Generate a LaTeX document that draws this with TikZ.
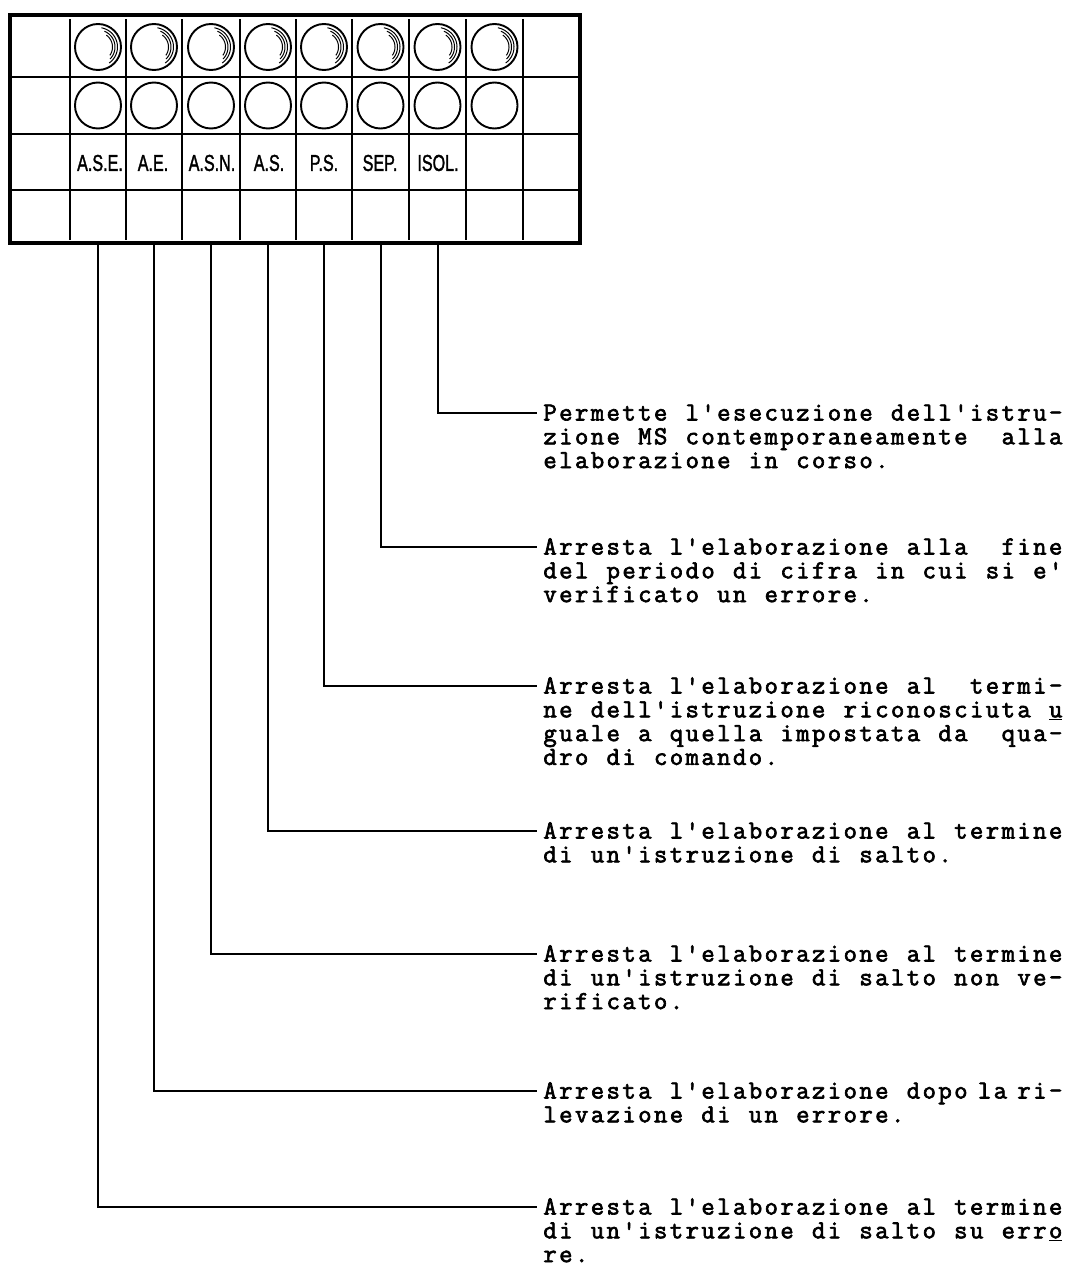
\documentclass[tikz,border=0pt]{standalone}
\usepackage{fontspec}
\usepackage{graphicx}
\newfontfamily\typew[FakeBold=2.5]{Latin Modern Mono}
\newfontfamily\labfont[FakeBold=1.8]{Liberation Sans}
\newlength\cellw \setlength\cellw{15.8pt}
\makeatletter
\def\twline#1{\tw@loop#1\relax}
\def\tw@loop#1{\ifx\relax#1\else\makebox[\cellw][c]{#1}\expandafter\tw@loop\fi}
\makeatother
\newcommand\dlines[1]{\vtop{\lineskiplimit=-50pt\baselineskip=23.8pt #1}}
\tikzset{
  frame/.style={draw, line width=3.5pt, inner sep=0pt, minimum width=570pt, minimum height=228pt},
  gridline/.style={line width=1.3pt},
  lamp/.style={circle, draw, line width=1.9pt, inner sep=0pt, minimum size=46pt},
  glint/.style={line width=1pt},
  lab/.style={inner sep=0pt, font=\labfont\fontsize{23pt}{23pt}\selectfont},
  desc/.style={inner sep=0pt, anchor=base west, font=\typew\fontsize{26pt}{23.8pt}\selectfont},
  conn/.style={line width=2pt},
}
\begin{document}
\begin{tikzpicture}[x=1pt, y=-1pt]
\useasboundingbox[fill=white] (0,0) rectangle (1070,1274);

% panel frame
\node[frame] (panel) at (295,129) {};

% grid
\foreach \gx in {70,126,182,240,296,352,409,466,523}
  \draw[gridline] (\gx,19) -- (\gx,240);
\foreach \gy in {77,134,190}
  \draw[gridline] (12,\gy) -- (578,\gy);

% lamps
\foreach \cx [count=\i] in {98,154,211,268,324,380.5,437.5,494.5} {
  \node[lamp] (lampT\i) at (\cx,47) {};
  \node[lamp] (lampB\i) at (\cx,105.5) {};
  \draw[glint] plot[variable=\t, domain=-80:55, samples=30] ({\cx+19.5*cos(\t)},{47+19.5*sin(\t)});
  \draw[glint] plot[variable=\t, domain=-68:45, samples=30] ({\cx+17*cos(\t)},{47+17*sin(\t)});
  \draw[glint] plot[variable=\t, domain=-55:35, samples=30] ({\cx+14.5*cos(\t)},{47+14.5*sin(\t)});
}

% labels
\node[lab] (lab1) at (100,163) {\scalebox{0.7}[1]{A.S.E.}};
\node[lab] (lab2) at (153,163) {\scalebox{0.7}[1]{A.E.}};
\node[lab] (lab3) at (212,163) {\scalebox{0.7}[1]{A.S.N.}};
\node[lab] (lab4) at (269,163) {\scalebox{0.7}[1]{A.S.}};
\node[lab] (lab5) at (324,163) {\scalebox{0.7}[1]{P.S.}};
\node[lab] (lab6) at (380,163) {\scalebox{0.7}[1]{SEP.}};
\node[lab] (lab7) at (438,163) {\scalebox{0.7}[1]{ISOL.}};

% descriptions
\node[desc] (t1) at (542,420.5) {\dlines{%
  \hbox{\twline{Permette~l'esecuzione~dell'istru-}}
  \hbox{\twline{zione~MS~contemporaneamente~~alla}}
  \hbox{\twline{elaborazione~in~corso.}}}};
\node[desc] (t2) at (542,554.5) {\dlines{%
  \hbox{\twline{Arresta~l'elaborazione~alla~~fine}}
  \hbox{\twline{del~periodo~di~cifra~in~cui~si~e'}}
  \hbox{\twline{verificato~un~errore.}}}};
\node[desc] (t3) at (542,693.5) {\dlines{%
  \hbox{\twline{Arresta~l'elaborazione~al~~termi-}}
  \hbox{\twline{ne~dell'istruzione~riconosciuta~{\underline{u}}}}
  \hbox{\twline{guale~a~quella~impostata~da~~qua-}}
  \hbox{\twline{dro~di~comando.}}}};
\node[desc] (t4) at (542,838.5) {\dlines{%
  \hbox{\twline{Arresta~l'elaborazione~al~termine}}
  \hbox{\twline{di~un'istruzione~di~salto.}}}};
\node[desc] (t5) at (542,961.5) {\dlines{%
  \hbox{\twline{Arresta~l'elaborazione~al~termine}}
  \hbox{\twline{di~un'istruzione~di~salto~non~ve-}}
  \hbox{\twline{rificato.}}}};
\node[desc] (t6) at (542,1098.5) {\dlines{%
  \hbox{\twline{Arresta~l'elaborazione~dopo}\hspace{0.5\cellw}\twline{la}\hspace{0.5\cellw}\twline{ri-}}
  \hbox{\twline{levazione~di~un~errore.}}}};
\node[desc] (t7) at (542,1214.5) {\dlines{%
  \hbox{\twline{Arresta~l'elaborazione~al~termine}}
  \hbox{\twline{di~un'istruzione~di~salto~su~err{\underline{o}}}}
  \hbox{\twline{re.}}}};

% connectors
\draw[conn] (panel.south -| lampB7) |- ([xshift=-5pt,yshift=7.5pt]t1.base west);
\draw[conn] (panel.south -| lampB6) |- ([xshift=-5pt,yshift=7.5pt]t2.base west);
\draw[conn] (panel.south -| lampB5) |- ([xshift=-5pt,yshift=7.5pt]t3.base west);
\draw[conn] (panel.south -| lampB4) |- ([xshift=-5pt,yshift=7.5pt]t4.base west);
\draw[conn] (panel.south -| lampB3) |- ([xshift=-5pt,yshift=7.5pt]t5.base west);
\draw[conn] (panel.south -| lampB2) |- ([xshift=-5pt,yshift=7.5pt]t6.base west);
\draw[conn] (panel.south -| lampB1) |- ([xshift=-5pt,yshift=7.5pt]t7.base west);
\end{tikzpicture}
\end{document}
